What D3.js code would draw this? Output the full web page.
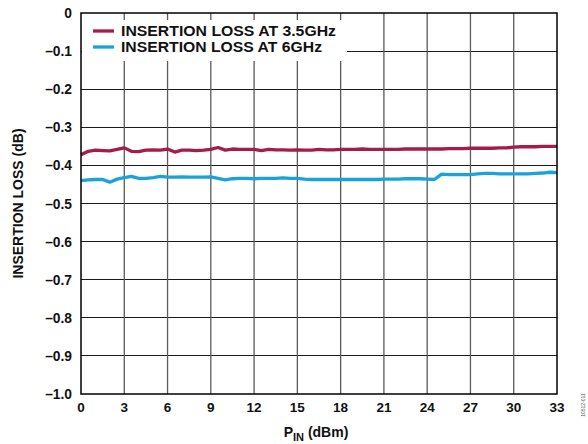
<!DOCTYPE html>
<html>
<head>
<meta charset="utf-8">
<script src="https://cdn.jsdelivr.net/npm/d3@7"></script>
<style>
  html, body { margin: 0; padding: 0; background: #fff; }
  svg { display: block; }
  text { font-family: "Liberation Sans", Arial, Helvetica, sans-serif; }
</style>
</head>
<body>
<svg id="chart" width="588" height="444"></svg>
<script>
// ---- data ----
const pIn = [0,0.5,1,1.5,2,2.5,3,3.5,4,4.5,5,5.5,6,6.5,7,7.5,8,8.5,9,9.5,10,10.5,11,11.5,12,12.5,13,13.5,14,14.5,15,15.5,16,16.5,17,17.5,18,18.5,19,19.5,20,20.5,21,21.5,22,22.5,23,23.5,24,24.5,25,25.5,26,26.5,27,27.5,28,28.5,29,29.5,30,30.5,31,31.5,32,32.5,33];
const loss35 = [-0.372,-0.363,-0.360,-0.361,-0.362,-0.358,-0.354,-0.363,-0.364,-0.360,-0.359,-0.360,-0.357,-0.365,-0.360,-0.360,-0.361,-0.360,-0.358,-0.353,-0.360,-0.357,-0.358,-0.358,-0.358,-0.361,-0.358,-0.359,-0.359,-0.360,-0.359,-0.360,-0.360,-0.358,-0.359,-0.359,-0.358,-0.358,-0.358,-0.357,-0.358,-0.358,-0.358,-0.358,-0.358,-0.357,-0.357,-0.357,-0.357,-0.357,-0.357,-0.356,-0.356,-0.356,-0.355,-0.355,-0.355,-0.355,-0.354,-0.354,-0.352,-0.351,-0.351,-0.351,-0.350,-0.350,-0.350];
const loss6 = [-0.440,-0.438,-0.437,-0.437,-0.444,-0.436,-0.432,-0.429,-0.434,-0.434,-0.432,-0.429,-0.431,-0.431,-0.430,-0.431,-0.431,-0.431,-0.430,-0.434,-0.438,-0.435,-0.434,-0.434,-0.435,-0.434,-0.434,-0.434,-0.433,-0.434,-0.434,-0.436,-0.437,-0.437,-0.437,-0.437,-0.437,-0.437,-0.437,-0.437,-0.437,-0.437,-0.436,-0.436,-0.436,-0.435,-0.435,-0.435,-0.436,-0.437,-0.423,-0.424,-0.424,-0.424,-0.424,-0.422,-0.421,-0.421,-0.422,-0.422,-0.422,-0.422,-0.422,-0.421,-0.420,-0.418,-0.419];
const xTicks = [0,3,6,9,12,15,18,21,24,27,30,33];
const yTicks = [0,-0.1,-0.2,-0.3,-0.4,-0.5,-0.6,-0.7,-0.8,-0.9,-1.0];
const yTickLabels = ["0","\u20130.1","\u20130.2","\u20130.3","\u20130.4","\u20130.5","\u20130.6","\u20130.7","\u20130.8","\u20130.9","\u20131.0"];
const seriesNames = ["INSERTION LOSS AT 3.5GHz","INSERTION LOSS AT 6GHz"];
const seriesColors = ["#a51c48","#1aa3d8"];

// ---- layout ----
const L = 81, R = 557, T = 13, B = 394;
const svg = d3.select("#chart");
const x = d3.scaleLinear().domain([0,33]).range([L,R]);
const y = d3.scaleLinear().domain([-1,0]).range([B,T]);

// grid
const g = svg.append("g");
g.selectAll("line.h").data(yTicks.slice(1,-1)).enter().append("line")
  .attr("x1",L).attr("x2",R).attr("y1",d=>y(d)).attr("y2",d=>y(d))
  .attr("stroke","#1a1a1a").attr("stroke-width",1).attr("shape-rendering","crispEdges");
g.selectAll("line.v").data(xTicks.slice(1,-1)).enter().append("line")
  .attr("y1",T).attr("y2",B).attr("x1",d=>x(d)).attr("x2",d=>x(d))
  .attr("stroke","#5a5a5a").attr("stroke-width",1.3);

// legend background (covers grid)
svg.append("rect").attr("x",L+1).attr("y",20).attr("width",265).attr("height",41).attr("fill","#fff");

// series lines
const line = d3.line().x((d,i)=>x(pIn[i])).y(d=>y(d)).curve(d3.curveLinear);
[loss35, loss6].forEach((s,k)=>{
  svg.append("path").datum(s).attr("d",line).attr("fill","none")
    .attr("stroke",seriesColors[k]).attr("stroke-width",3.3).attr("stroke-linejoin","round");
});

// border
svg.append("rect").attr("x",L).attr("y",T).attr("width",R-L).attr("height",B-T)
  .attr("fill","none").attr("stroke","#000").attr("stroke-width",1.5);

// legend
const legendWidths = [215, 201];
seriesNames.forEach((n,k)=>{
  const yy = 31 + k*16;
  svg.append("line").attr("x1",93).attr("x2",114).attr("y1",yy).attr("y2",yy)
    .attr("stroke",seriesColors[k]).attr("stroke-width",3.3);
  svg.append("text").attr("x",121).attr("y",yy+5).text(n)
    .attr("font-size",14).attr("font-weight","bold").attr("fill","#111")
    .attr("textLength",legendWidths[k]).attr("lengthAdjust","spacingAndGlyphs");
});

// axes labels
svg.selectAll("text.xt").data(xTicks).enter().append("text")
  .attr("x",d=>x(d)).attr("y",412).attr("text-anchor","middle")
  .attr("font-size",13.5).attr("font-weight","bold").attr("fill","#111").text(d=>d);
svg.selectAll("text.yt").data(yTicks).enter().append("text")
  .attr("x",72).attr("y",d=>y(d)+5).attr("text-anchor","end")
  .attr("font-size",13.8).attr("font-weight","bold").attr("fill","#111").text((d,i)=>yTickLabels[i]);

// axis titles
const xt = svg.append("text").attr("x",316).attr("y",437).attr("text-anchor","middle")
  .attr("font-size",14).attr("font-weight","bold").attr("fill","#111");
xt.append("tspan").text("P");
xt.append("tspan").attr("dy",4).attr("font-size",11).text("IN");
xt.append("tspan").attr("dy",-4).text(" (dBm)");

svg.append("text").attr("transform","translate(23,203.5) rotate(-90)").attr("text-anchor","middle")
  .attr("font-size",14).attr("font-weight","bold").attr("fill","#111").text("INSERTION LOSS (dB)");

// tiny figure id
svg.append("text").attr("transform","translate(585,405) rotate(-90)").attr("text-anchor","middle")
  .attr("font-size",5).attr("fill","#555").text("10512-011");
</script>
</body>
</html>
